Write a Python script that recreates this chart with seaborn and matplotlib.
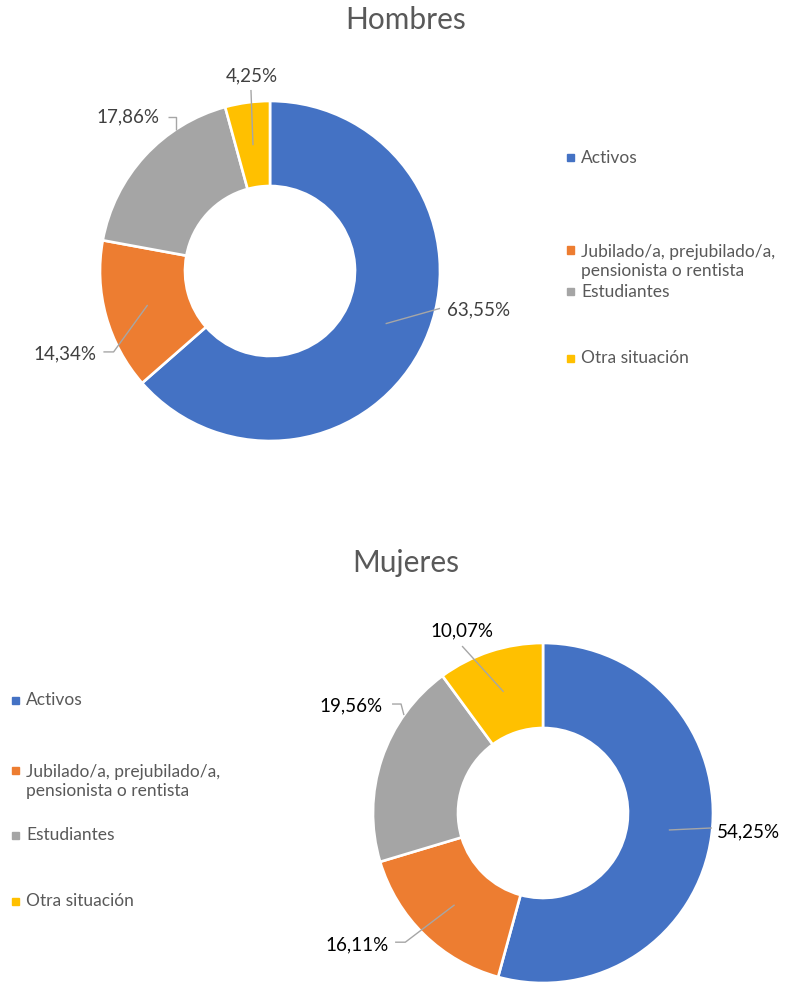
import numpy as np
import matplotlib
matplotlib.use("Agg")
import matplotlib.pyplot as plt
from matplotlib.patches import Rectangle
import seaborn as sns

# data
categorias = ["Activos", "Jubilado/a, prejubilado/a,\npensionista o rentista",
              "Estudiantes", "Otra situación"]
hombres = [63.55, 14.34, 17.86, 4.25]
mujeres = [54.25, 16.11, 19.56, 10.07]
colores = sns.color_palette(["#4472C4", "#ED7D31", "#A5A5A5", "#FFC000"])

sns.set_theme(style="white")
plt.rcParams['font.family'] = ['Lato', 'DejaVu Sans']

W, H = 803, 986
fig = plt.figure(figsize=(W / 100, H / 100), dpi=100)
R = 170  # donut radius in px
LIM = 1.4


def donut_axes(cx, cy):
    size = 2 * LIM * R
    ax = fig.add_axes([(cx - size / 2) / W, (H - cy - size / 2) / H, size / W, size / H])
    return ax


def fmt(v):
    return f"{v:.2f}".replace(".", ",") + "%"


def draw_donut(ax, values, labels_layout, label_color):
    ax.pie(values, colors=colores, startangle=90, counterclock=False,
           wedgeprops=dict(width=0.5, edgecolor="white", linewidth=1.9))
    ax.set_xlim(-LIM, LIM)
    ax.set_ylim(-LIM, LIM)
    ax.axis("off")
    for v, (path, tx, ty, ha) in zip(values, labels_layout):
        xs, ys = zip(*path)
        ax.plot(xs, ys, color="#A6A6A6", lw=1.0, solid_capstyle="butt")
        ax.text(tx, ty, fmt(v), ha=ha, va="center", fontsize=13.5, color=label_color)


def draw_legend(x, ys):
    # ys = centre of first text line of each entry
    for c, lab, y in zip(colores, categorias, ys):
        fig.patches.append(Rectangle((x / W, 1 - (y + 3.5) / H), 7 / W, 7 / H,
                                     transform=fig.transFigure, color=c))
        n = lab.count("\n")
        fig.text((x + 14) / W, 1 - (y + 11.5 * n) / H, lab, ha="left", va="center",
                 fontsize=12.5, color="#595959", linespacing=1.3)


# layout of labels: leader path, text position, alignment (unit radius coords)
hombres_lbl = [
    ([(0.68, -0.31), (1.0, -0.22)], 1.04, -0.23, "left"),
    ([(-0.72, -0.2), (-0.92, -0.476), (-0.98, -0.476)], -1.02, -0.49, "right"),
    ([(-0.553, 0.83), (-0.553, 0.906), (-0.6, 0.906)], -0.65, 0.906, "right"),
    ([(-0.1, 0.74), (-0.112, 1.065)], -0.106, 1.15, "center"),
]
mujeres_lbl = [
    ([(0.74, -0.1), (0.994, -0.088)], 1.02, -0.112, "left"),
    ([(-0.52, -0.54), (-0.81, -0.76), (-0.87, -0.76)], -0.91, -0.776, "right"),
    ([(-0.818, 0.576), (-0.835, 0.641), (-0.888, 0.641)], -0.945, 0.63, "right"),
    ([(-0.232, 0.713), (-0.476, 0.982)], -0.476, 1.07, "center"),
]

ax1 = donut_axes(270, 271)
draw_donut(ax1, hombres, hombres_lbl, "#404040")
ax2 = donut_axes(543, 813)
draw_donut(ax2, mujeres, mujeres_lbl, "black")

fig.text(406 / W, 1 - 20 / H, "Hombres", ha="center", va="center", fontsize=21.5, color="#595959")
fig.text(406 / W, 1 - 563 / H, "Mujeres", ha="center", va="center", fontsize=21.5, color="#595959")

# legends: marker x, y for first line of each entry
draw_legend(567, [158, 250, 292, 358])
draw_legend(12, [700, 770, 835, 901])

fig.savefig("out.png", dpi=100)
